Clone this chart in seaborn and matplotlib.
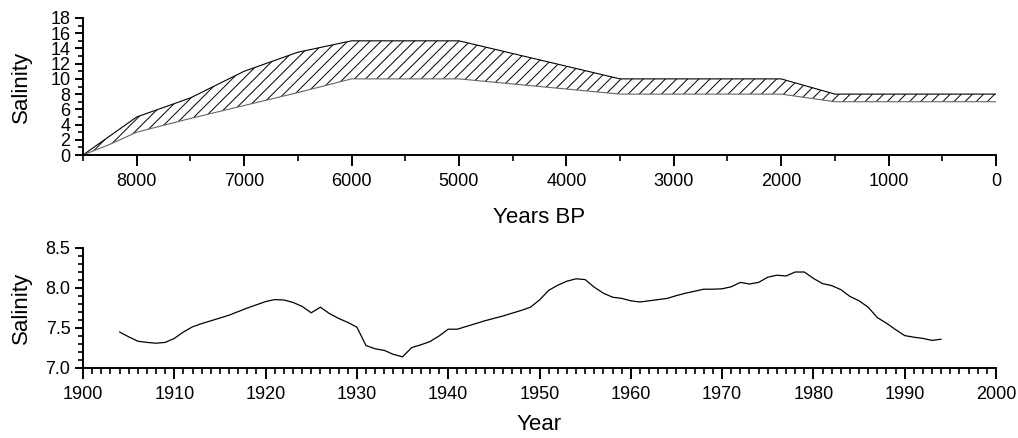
import matplotlib
matplotlib.use("Agg")
import matplotlib.pyplot as plt
from matplotlib.ticker import MultipleLocator
import seaborn as sns
import pandas as pd

# Holocene salinity envelope (years BP)
bp_years = [8500, 8250, 8000, 7500, 7000, 6500, 6000, 5000, 3500, 2000, 1500, 0]
sal_upper = [0, 2.5, 5, 7.5, 11, 13.5, 15, 15, 10, 10, 8, 8]
sal_lower = [0, 1.4, 3, 4.8, 6.5, 8.2, 10, 10, 8, 8, 7, 7]

# Instrumental salinity record
years = list(range(1904, 1995))
salinity = [7.45, 7.39, 7.335, 7.32, 7.31, 7.32, 7.37, 7.45, 7.515, 7.555, 7.59, 7.625,
            7.66, 7.705, 7.75, 7.79, 7.83, 7.855, 7.85, 7.82, 7.77, 7.69, 7.76, 7.68,
            7.62, 7.57, 7.51, 7.28, 7.24, 7.22, 7.17, 7.14, 7.255, 7.29, 7.33, 7.40,
            7.485, 7.485, 7.52, 7.555, 7.59, 7.62, 7.65, 7.685, 7.72, 7.76, 7.85, 7.97,
            8.035, 8.085, 8.115, 8.105, 8.01, 7.935, 7.885, 7.87, 7.84, 7.825, 7.84, 7.855,
            7.87, 7.905, 7.935, 7.96, 7.985, 7.985, 7.99, 8.015, 8.07, 8.05, 8.07, 8.135,
            8.16, 8.15, 8.2, 8.2, 8.12, 8.055, 8.03, 7.98, 7.895, 7.84, 7.76, 7.63,
            7.56, 7.48, 7.405, 7.385, 7.37, 7.345, 7.36]

sns.set_theme(style="ticks")
plt.rcParams['font.family'] = ['Liberation Sans', 'DejaVu Sans']
plt.rcParams['hatch.linewidth'] = 0.7
plt.rcParams['text.color'] = 'black'
plt.rcParams['axes.labelcolor'] = 'black'

fig = plt.figure(figsize=(10.18, 4.38), dpi=100)
ax1 = fig.add_axes([83/1018, 1-155/438, 913/1018, 137/438])
ax2 = fig.add_axes([83/1018, 1-368/438, 913/1018, 120/438])

env = pd.DataFrame({"bp": bp_years, "upper": sal_upper, "lower": sal_lower})
ax1.fill_between(env["bp"], env["lower"], env["upper"], facecolor="white",
                 edgecolor="black", hatch="///", linewidth=0)
sns.lineplot(data=env, x="bp", y="upper", ax=ax1, color="black", linewidth=0.8)
sns.lineplot(data=env, x="bp", y="lower", ax=ax1, color="#666666", linewidth=0.8)

ax1.set_xlim(8500, 0)
ax1.set_ylim(0, 18)
ax1.xaxis.set_major_locator(MultipleLocator(1000))
ax1.xaxis.set_minor_locator(MultipleLocator(500))
ax1.yaxis.set_major_locator(MultipleLocator(2))
ax1.yaxis.set_minor_locator(MultipleLocator(1))
ax1.set_xlabel("Years BP", fontsize=16, labelpad=12, color="black")
ax1.set_ylabel("Salinity", fontsize=16, color="black")
ax1.set_xticks([8000, 7000, 6000, 5000, 4000, 3000, 2000, 1000, 0])

rec = pd.DataFrame({"year": years, "salinity": salinity})
sns.lineplot(data=rec, x="year", y="salinity", ax=ax2, color="black", linewidth=0.9)
ax2.set_xlim(1900, 2000)
ax2.set_ylim(7.0, 8.5)
ax2.xaxis.set_major_locator(MultipleLocator(10))
ax2.xaxis.set_minor_locator(MultipleLocator(1))
ax2.yaxis.set_major_locator(MultipleLocator(0.5))
ax2.yaxis.set_minor_locator(MultipleLocator(0.1))
ax2.yaxis.set_major_formatter(matplotlib.ticker.FormatStrFormatter('%.1f'))
ax2.set_xlabel("Year", fontsize=16, labelpad=8, color="black")
ax2.set_ylabel("Salinity", fontsize=16, color="black")

for ax in (ax1, ax2):
    sns.despine(ax=ax)
    ax.set_facecolor("white")
    for s in ("left", "bottom"):
        ax.spines[s].set_linewidth(1.4)
        ax.spines[s].set_color("black")
    ax.tick_params(which="major", direction="out", length=6, width=1.4,
                   labelsize=13, colors="black", pad=3)
    ax.tick_params(which="minor", direction="out", length=3.5, width=1.2, colors="black")
    ax.tick_params(axis="x", which="major", length=8, pad=5)
    ax.tick_params(axis="x", which="minor", length=4.5)
    ax.yaxis.set_label_coords(-0.056, 0.5)

fig.savefig("out.png", dpi=100, facecolor="white")
